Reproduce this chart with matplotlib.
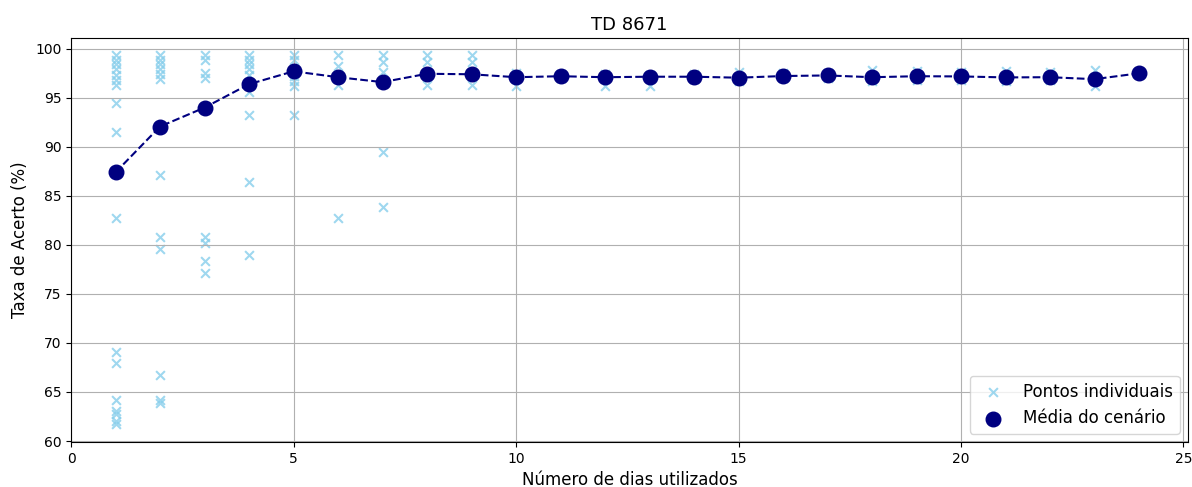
import numpy as np
import matplotlib
matplotlib.use('Agg')
from matplotlib import pyplot as plt

# acertos individuais por número de dias utilizados
dias = list(range(1, 25))
pontos = {
    1: [99.4, 98.9, 98.4, 97.9, 97.3, 96.8, 96.3, 94.5, 91.5, 82.7,
        69.1, 68.0, 64.2, 63.1, 62.8, 62.0, 61.7],
    2: [99.4, 98.9, 98.4, 97.9, 97.4, 96.9, 87.1, 80.8, 79.6, 66.7, 64.2, 63.9],
    3: [99.4, 98.9, 97.5, 97.0, 80.8, 80.2, 78.4, 77.1],
    4: [99.4, 98.9, 98.4, 97.9, 97.3, 95.6, 93.2, 86.4, 79.0],
    5: [99.4, 98.9, 97.2, 96.7, 96.2, 93.2],
    6: [99.4, 98.2, 96.3, 82.7],
    7: [99.4, 98.7, 97.6, 89.5, 83.9],
    8: [99.4, 98.7, 96.3],
    9: [99.4, 98.7, 96.3],
    10: [97.5, 96.2],
    11: [97.4, 97.0],
    12: [97.4, 96.2],
    13: [97.3, 96.2],
    14: [97.4, 96.9],
    15: [97.6, 96.7],
    16: [97.5, 97.0],
    17: [97.5, 97.0],
    18: [97.8, 96.7],
    19: [97.7, 96.8],
    20: [97.6, 96.8],
    21: [97.7, 96.7],
    22: [97.6, 96.8],
    23: [97.8, 96.2],
    24: [97.5],
}
medias = [87.4, 92.07, 94.0, 96.39, 97.7, 97.1, 96.6, 97.45, 97.4, 97.1,
          97.2, 97.1, 97.15, 97.15, 97.05, 97.22, 97.28, 97.1, 97.2, 97.18,
          97.08, 97.1, 96.9, 97.5]

xs = [d for d in dias for _ in pontos[d]]
ys = [v for d in dias for v in pontos[d]]

fig = plt.figure(figsize=(11.92, 4.87), dpi=100)
ax = fig.add_subplot(111)
fig.subplots_adjust(left=0.0596, right=0.9966, top=0.922, bottom=0.0924)

ax.scatter(xs, ys, marker='x', color='skyblue', s=40, alpha=0.8,
           label='Pontos individuais')
ax.plot(dias, medias, '--', color='navy', linewidth=1.5)
ax.scatter(dias, medias, color='navy', s=110, zorder=3,
           label='Média do cenário')

ax.set_xlim(0, 25.1)
ax.set_ylim(59.9, 101.1)
ax.set_yticks(np.arange(60, 101, 5))
ax.set_title('TD 8671', fontsize=13)
ax.set_xlabel('Número de dias utilizados', fontsize=12)
ax.set_ylabel('Taxa de Acerto (%)', fontsize=12)
ax.grid(True)
ax.legend(loc='lower right', fontsize=12)

plt.savefig('out.png', dpi=100)
